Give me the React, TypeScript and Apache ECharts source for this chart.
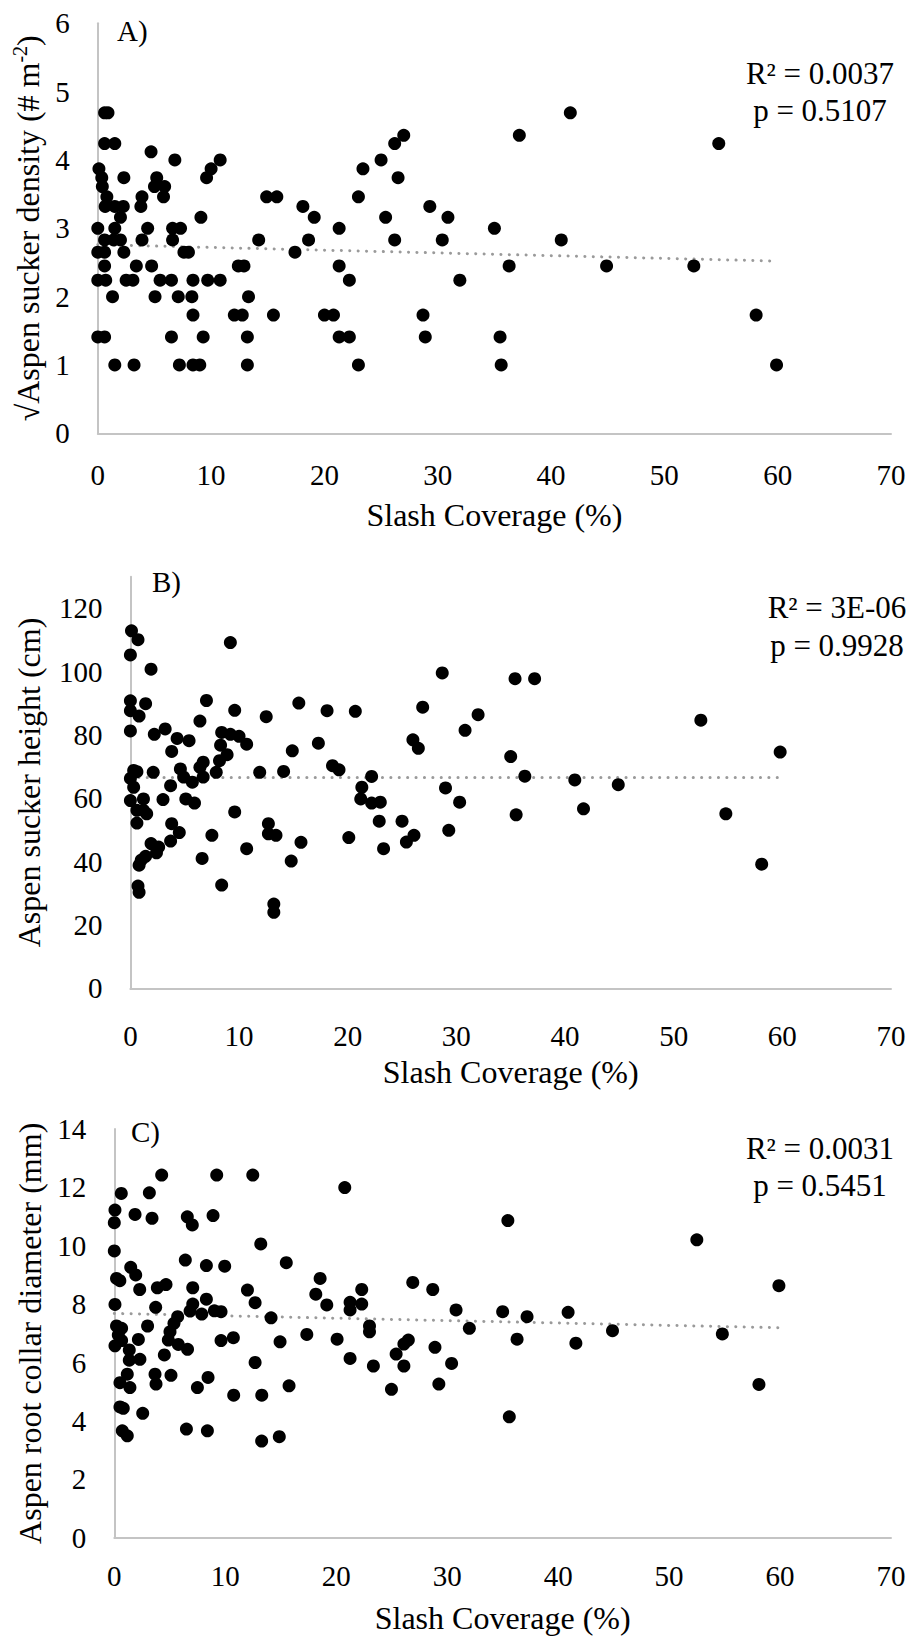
import React, { useEffect, useRef } from 'react';
import * as echarts from 'echarts';

const FONT = 'Liberation Serif, Times New Roman, serif';

// ---------- Data ----------
const slashAxis = { min: 0, max: 70, step: 10 };
const xAxisTitle = 'Slash Coverage (%)';

// Panel A: sqrt aspen sucker density vs slash coverage
const densityPoints: [number, number][] = [
  [0.6, 4.69], [0.9, 4.69], [41.7, 4.69],
  [27.0, 4.36], [37.2, 4.36],
  [0.6, 4.24], [1.5, 4.24], [26.2, 4.24], [54.8, 4.24],
  [4.7, 4.12],
  [6.8, 4.0], [10.8, 4.0], [25.0, 4.0],
  [0.1, 3.87], [10.0, 3.87], [23.4, 3.87],
  [0.35, 3.74], [2.3, 3.74], [5.2, 3.74], [9.6, 3.74], [26.5, 3.74],
  [0.4, 3.61], [5.0, 3.61], [5.9, 3.61],
  [0.8, 3.46], [3.9, 3.46], [5.8, 3.46], [14.9, 3.46], [15.8, 3.46], [23.0, 3.46],
  [0.65, 3.32], [1.5, 3.32], [2.25, 3.32], [3.8, 3.32], [18.1, 3.32], [29.3, 3.32],
  [2.0, 3.16], [9.1, 3.16], [19.1, 3.16], [25.4, 3.16], [30.9, 3.16],
  [0.0, 3.0], [1.5, 3.0], [4.4, 3.0], [6.6, 3.0], [7.3, 3.0], [21.3, 3.0], [35.0, 3.0],
  [0.6, 2.83], [1.4, 2.83], [2.0, 2.83], [3.9, 2.83], [6.6, 2.83], [14.2, 2.83], [18.6, 2.83], [26.2, 2.83], [30.4, 2.83], [40.9, 2.83],
  [0.0, 2.65], [0.6, 2.65], [2.3, 2.65], [7.6, 2.65], [8.0, 2.65], [17.4, 2.65],
  [0.6, 2.45], [3.4, 2.45], [4.75, 2.45], [12.4, 2.45], [12.9, 2.45], [21.3, 2.45], [36.3, 2.45], [44.9, 2.45], [52.6, 2.45],
  [0.0, 2.24], [0.7, 2.24], [2.5, 2.24], [3.1, 2.24], [5.5, 2.24], [6.5, 2.24], [8.4, 2.24], [9.7, 2.24], [10.8, 2.24], [22.2, 2.24], [31.95, 2.24],
  [1.3, 2.0], [5.05, 2.0], [7.1, 2.0], [8.3, 2.0], [13.3, 2.0],
  [8.4, 1.73], [12.05, 1.73], [12.75, 1.73], [15.5, 1.73], [20.0, 1.73], [20.8, 1.73], [28.7, 1.73], [58.1, 1.73],
  [0.0, 1.41], [0.6, 1.41], [6.5, 1.41], [9.3, 1.41], [13.2, 1.41], [21.3, 1.41], [22.2, 1.41], [28.9, 1.41], [35.5, 1.41],
  [1.5, 1.0], [3.2, 1.0], [7.2, 1.0], [8.4, 1.0], [9.0, 1.0], [13.2, 1.0], [23.0, 1.0], [35.6, 1.0], [59.9, 1.0],
];
const densityTrend: [number, number][] = [[0, 2.76], [59.9, 2.52]];
const densityStats = ['R² = 0.0037', 'p = 0.5107'];

// Panel B: aspen sucker height (cm)
const heightPoints: [number, number][] = [
  [0.1, 112.9], [0.7, 110.1], [0.0, 105.3], [1.9, 100.8], [9.2, 109.2],
  [0.0, 90.8], [1.4, 89.9], [0.0, 87.7], [0.8, 86.0], [7.0, 90.9], [9.6, 87.8],
  [6.4, 84.4], [12.5, 85.8], [15.5, 90.1], [18.1, 87.7], [20.7, 87.5], [28.7, 99.6],
  [26.9, 88.8], [32.0, 86.4], [30.8, 81.5], [0.0, 81.3], [2.2, 80.2], [3.2, 81.9],
  [4.3, 78.9], [5.4, 78.2], [3.8, 74.8], [8.4, 80.8], [9.2, 80.2], [10.0, 79.6],
  [10.7, 77.1], [8.3, 76.8], [8.9, 73.8], [8.2, 71.9], [14.9, 75.0], [17.3, 77.4],
  [26.0, 78.5], [26.5, 75.8], [0.3, 68.8], [0.6, 68.4], [0.0, 66.3], [0.3, 63.5],
  [0.0, 59.3], [2.1, 68.2], [4.6, 69.3], [4.9, 66.7], [5.7, 65.1], [6.7, 71.4],
  [6.4, 69.8], [7.9, 68.2], [6.7, 66.7], [3.7, 64.0], [11.9, 68.2], [14.1, 68.5],
  [18.6, 70.3], [19.2, 69.0], [22.2, 66.9], [21.3, 63.5], [21.2, 59.8], [22.2, 58.5],
  [23.0, 58.8], [1.2, 59.8], [3.0, 59.6], [5.1, 59.8], [5.9, 58.5], [0.6, 56.2],
  [1.5, 55.1], [0.6, 52.2], [1.2, 56.2], [9.6, 55.7], [3.8, 52.0], [4.5, 49.2],
  [3.7, 46.5], [1.9, 45.7], [2.6, 44.6], [2.4, 42.8], [1.4, 41.7], [1.0, 40.5],
  [0.8, 38.9], [7.5, 48.3], [10.7, 44.1], [6.6, 41.0], [12.7, 52.0], [12.7, 48.8],
  [13.4, 48.3], [15.7, 46.1], [14.8, 40.2], [20.1, 47.6], [22.9, 52.8], [25.0, 52.8],
  [25.4, 46.2], [26.1, 48.3], [23.3, 44.1], [29.0, 63.3], [30.3, 58.8], [29.3, 49.9],
  [8.4, 32.6], [0.7, 32.3], [0.8, 30.3], [13.2, 26.6], [13.2, 24.0],
  [35.4, 97.8], [37.2, 97.8], [35.0, 73.2], [36.3, 67.0], [35.5, 54.8], [40.9, 65.8],
  [41.7, 56.7], [44.9, 64.3], [52.5, 84.7], [54.8, 55.1], [59.8, 74.6], [58.1, 39.2],
];
const heightTrend: [number, number][] = [[0, 66.6], [59.8, 66.6]];
const heightStats = ['R² = 3E-06', 'p = 0.9928'];

// Panel C: aspen root collar diameter (mm)
const diameterPoints: [number, number][] = [
  [4.27, 12.42], [9.23, 12.42], [12.48, 12.42], [20.77, 11.99], [0.63, 11.79], [3.16, 11.81],
  [0.06, 11.22], [0.0, 10.79], [1.87, 11.07], [3.4, 10.94], [6.58, 10.99], [7.03, 10.71],
  [8.9, 11.03], [13.2, 10.06], [0.0, 9.82], [6.4, 9.51], [8.3, 9.32], [9.95, 9.3],
  [15.5, 9.42], [1.48, 9.26], [1.93, 9.0], [0.2, 8.88], [0.5, 8.8], [2.29, 8.5],
  [3.88, 8.56], [4.66, 8.67], [7.07, 8.56], [18.55, 8.88], [26.9, 8.74], [28.7, 8.5],
  [22.3, 8.5], [0.06, 7.99], [3.73, 7.89], [7.07, 8.0], [8.3, 8.17], [12.0, 8.48],
  [12.69, 8.05], [18.16, 8.34], [19.15, 7.97], [21.25, 8.06], [21.25, 7.8], [22.3, 8.0],
  [30.8, 7.8], [5.71, 7.57], [6.83, 7.76], [7.88, 7.66], [9.02, 7.77], [9.62, 7.74],
  [14.13, 7.53], [23.0, 7.25], [23.0, 7.05], [32.0, 7.17], [0.2, 7.25], [0.66, 7.17],
  [0.36, 6.94], [0.66, 6.75], [0.06, 6.57], [3.0, 7.25], [2.17, 6.79], [5.38, 7.34],
  [5.02, 7.05], [4.87, 6.77], [5.77, 6.62], [6.6, 6.45], [1.35, 6.43], [1.35, 6.08],
  [2.31, 6.11], [4.51, 6.26], [9.62, 6.75], [10.73, 6.85], [14.94, 6.71], [17.35, 6.96],
  [20.08, 6.8], [21.25, 6.14], [23.35, 5.88], [26.5, 6.77], [26.1, 6.63], [25.4, 6.29],
  [26.1, 5.88], [28.9, 6.52], [30.4, 5.97], [24.98, 5.08], [29.25, 5.26], [12.69, 6.0],
  [1.17, 5.6], [0.51, 5.31], [1.41, 5.14], [3.67, 5.6], [3.76, 5.26], [5.11, 5.56],
  [7.49, 5.14], [8.45, 5.49], [10.76, 4.88], [13.29, 4.88], [15.75, 5.2], [0.51, 4.48],
  [0.81, 4.43], [2.56, 4.26], [0.72, 3.66], [1.17, 3.49], [6.5, 3.72], [8.39, 3.66],
  [13.28, 3.31], [14.87, 3.46],
  [35.47, 10.86], [52.5, 10.2], [59.9, 8.63], [35.0, 7.74], [37.2, 7.57], [40.9, 7.72],
  [36.3, 6.8], [41.6, 6.66], [44.9, 7.09], [54.8, 6.98], [58.1, 5.25], [35.6, 4.14],
];
const diameterTrend: [number, number][] = [[0, 7.68], [59.9, 7.19]];
const diameterStats = ['R² = 0.0031', 'p = 0.5451'];

// ---------- Layout / styling ----------
const AXIS_COLOR = '#C4C4C4';
const TICK_SIZE = 29;
const TITLE_SIZE = 32;

type Panel = {
  label: string;
  points: [number, number][];
  trend: [number, number][];
  stats: string[];
  yMax: number;
  yStep: number;
  yLabelMax: number;
  yName: string;
  yNameGap: number;
  xLabelMargin: number;
  xNameGap: number;
  grid: { left: number; top: number; width: number; height: number };
  labelPos: [number, number];
  statsPos: [number, number, number];
};

const panels: Panel[] = [
  {
    label: 'A)',
    points: densityPoints,
    trend: densityTrend,
    stats: densityStats,
    yMax: 6,
    yStep: 1,
    yLabelMax: 6,
    yName: '{t|√Aspen sucker density (# m}{s|-2}{t|)}',
    yNameGap: 50,
    xLabelMargin: 27,
    xNameGap: 66,
    grid: { left: 97.8, top: 23.3, width: 793.2, height: 410 },
    labelPos: [117, 31],
    statsPos: [820, 73, 110],
  },
  {
    label: 'B)',
    points: heightPoints,
    trend: heightTrend,
    stats: heightStats,
    yMax: 130,
    yStep: 20,
    yLabelMax: 120,
    yName: '{t|Aspen sucker height (cm)}',
    yNameGap: 83,
    xLabelMargin: 33,
    xNameGap: 68,
    grid: { left: 130.4, top: 576.7, width: 760.6, height: 411.6 },
    labelPos: [152, 582],
    statsPos: [837, 607, 645],
  },
  {
    label: 'C)',
    points: diameterPoints,
    trend: diameterTrend,
    stats: diameterStats,
    yMax: 14,
    yStep: 2,
    yLabelMax: 14,
    yName: '{t|Aspen root collar diameter (mm)}',
    yNameGap: 65,
    xLabelMargin: 24,
    xNameGap: 64,
    grid: { left: 114.3, top: 1128.9, width: 776.7, height: 408.8 },
    labelPos: [131, 1132],
    statsPos: [820, 1148, 1185],
  },
];

const textBase = { color: '#000', fontFamily: FONT };

function buildOption() {
  const grid: any[] = [];
  const xAxis: any[] = [];
  const yAxis: any[] = [];
  const series: any[] = [];
  const graphic: any[] = [];

  panels.forEach((p, i) => {
    grid.push({ ...p.grid, containLabel: false });
    xAxis.push({
      type: 'value',
      gridIndex: i,
      min: slashAxis.min,
      max: slashAxis.max,
      interval: slashAxis.step,
      axisLine: { show: true, onZero: false, lineStyle: { color: AXIS_COLOR, width: 2 } },
      axisTick: { show: false },
      splitLine: { show: false },
      axisLabel: {
        margin: p.xLabelMargin,
        formatter: '{v|{value}}',
        rich: { v: { ...textBase, fontSize: TICK_SIZE } },
        ...textBase,
        fontSize: TICK_SIZE,
      },
      name: '{t|' + xAxisTitle + '}',
      nameLocation: 'middle',
      nameGap: p.xNameGap,
      nameTextStyle: {
        ...textBase,
        fontSize: TITLE_SIZE,
        rich: { t: { ...textBase, fontSize: TITLE_SIZE } },
      },
    });
    yAxis.push({
      type: 'value',
      gridIndex: i,
      min: 0,
      max: p.yMax,
      interval: p.yStep,
      axisLine: { show: true, onZero: false, lineStyle: { color: AXIS_COLOR, width: 2 } },
      axisTick: { show: false },
      splitLine: { show: false },
      axisLabel: {
        margin: 28,
        ...textBase,
        fontSize: TICK_SIZE,
        rich: { v: { ...textBase, fontSize: TICK_SIZE } },
        formatter: (v: number) => (v > p.yLabelMax ? '' : '{v|' + v + '}'),
      },
      name: p.yName,
      nameLocation: 'middle',
      nameGap: p.yNameGap,
      nameTextStyle: {
        ...textBase,
        fontSize: TITLE_SIZE,
        rich: {
          t: { ...textBase, fontSize: TITLE_SIZE, lineHeight: 36 },
          s: { ...textBase, fontSize: 20, lineHeight: 20, verticalAlign: 'top' },
        },
      },
    });
    series.push({
      type: 'scatter',
      xAxisIndex: i,
      yAxisIndex: i,
      data: p.points,
      symbol: 'circle',
      symbolSize: 13,
      clip: false,
      itemStyle: { color: '#000', opacity: 1 },
      z: 3,
    });
    series.push({
      type: 'line',
      xAxisIndex: i,
      yAxisIndex: i,
      data: p.trend,
      showSymbol: false,
      symbol: 'none',
      clip: false,
      lineStyle: { color: '#9A9A9A', width: 3, type: [0.1, 8.3], cap: 'round' },
      z: 2,
    });
    graphic.push({
      type: 'text',
      x: p.labelPos[0],
      y: p.labelPos[1],
      style: {
        text: p.label,
        fill: '#000',
        font: `29px ${FONT}`,
        align: 'left',
        verticalAlign: 'middle',
        textAlign: 'left',
        textVerticalAlign: 'middle',
      },
    });
    p.stats.forEach((s, k) => {
      graphic.push({
        type: 'text',
        x: p.statsPos[0],
        y: p.statsPos[1 + k],
        style: {
          text: s,
          fill: '#000',
          font: `31px ${FONT}`,
          align: 'center',
          verticalAlign: 'middle',
          textAlign: 'center',
          textVerticalAlign: 'middle',
        },
      });
    });
  });

  return {
    animation: false,
    backgroundColor: '#fff',
    textStyle: { fontFamily: FONT },
    grid,
    xAxis,
    yAxis,
    series,
    graphic,
  };
}

export default function App() {
  const ref = useRef<HTMLDivElement>(null);
  useEffect(() => {
    if (!ref.current) return;
    const chart = echarts.init(ref.current, undefined, { renderer: 'svg' });
    chart.setOption(buildOption() as any);
    return () => chart.dispose();
  }, []);
  return (
    <div
      ref={ref}
      style={{ position: 'absolute', left: 0, top: 0, width: 913, height: 1639, background: '#fff' }}
    />
  );
}
